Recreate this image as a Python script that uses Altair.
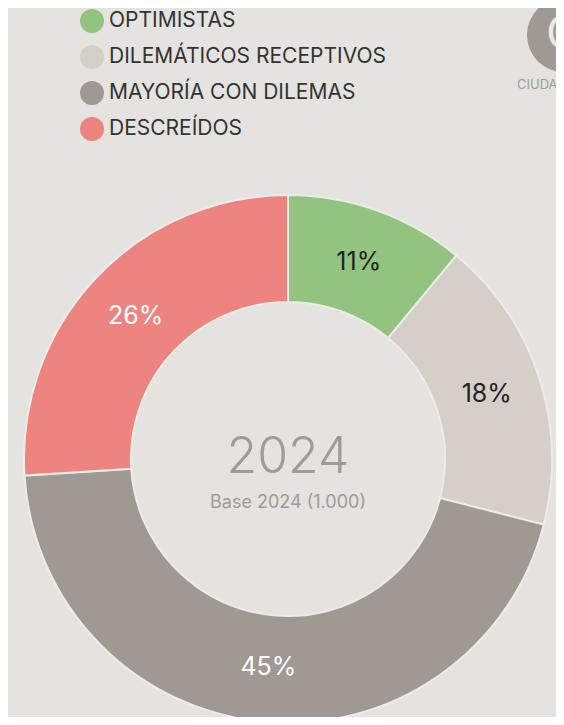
import altair as alt
import pandas as pd

categories = ["OPTIMISTAS", "DILEMÁTICOS RECEPTIVOS", "MAYORÍA CON DILEMAS", "DESCREÍDOS"]
values = [11, 18, 45, 26]
labels = ["11%", "18%", "45%", "26%"]
colors = ["#92c47f", "#d5cec9", "#9f9893", "#ee8480"]
label_colors = ["#222222", "#222222", "#ffffff", "#ffffff"]
center_title = ["2024"]
center_sub = ["Base 2024 (1.000)"]
corner_text = ["CIUDAD"]

BG = "#e5e3df"
GREY_TXT = "#a29a95"
CX, CY = 280, 451

df = pd.DataFrame({
    "cat": categories,
    "val": values,
    "label": labels,
    "ord": list(range(len(categories))),
    "lc": label_colors,
})

base = alt.Chart(df).encode(
    theta=alt.Theta("val:Q", stack=True),
    order=alt.Order("ord:Q"),
)

arcs = base.mark_arc(innerRadius=157, outerRadius=264, stroke="#ecebe8", strokeWidth=2).encode(
    color=alt.Color(
        "cat:N",
        scale=alt.Scale(domain=categories, range=colors),
        sort=categories,
        legend=alt.Legend(
            orient="none", legendX=72, legendY=1, title=None,
            symbolType="circle", symbolSize=576, symbolStrokeWidth=0, symbolOpacity=1,
            labelFontSize=21, labelColor="#333333", labelFont="Inter",
            labelOffset=5, rowPadding=12, padding=0, labelLimit=500,
        ),
    ),
    x=alt.value(CX), y=alt.value(CY),
)

pct = base.mark_text(radius=209, fontSize=25, font="Inter").encode(
    text="label:N",
    color=alt.Color("lc:N", scale=None),
    x=alt.value(CX), y=alt.value(CY),
)

title_df = pd.DataFrame({"t": center_title, "s": center_sub, "c": corner_text})
tbase = alt.Chart(title_df)
big = tbase.mark_text(fontSize=50, fontWeight=300, font="Inter", color=GREY_TXT, baseline="alphabetic").encode(
    text="t:N", x=alt.value(CX), y=alt.value(465))
sub = tbase.mark_text(fontSize=18, font="Inter", color=GREY_TXT, baseline="alphabetic").encode(
    text="s:N", x=alt.value(CX), y=alt.value(500))

icon = tbase.mark_circle(size=5476, color="#a09893", opacity=1).encode(
    x=alt.value(556), y=alt.value(27))
icon_c = tbase.mark_text(text="C", fontSize=46, font="Inter", color="#ebe9e6", align="left", baseline="middle").encode(
    x=alt.value(538), y=alt.value(27))
corner = tbase.mark_text(fontSize=13, font="Inter", color=GREY_TXT, align="left", baseline="alphabetic").encode(
    text="c:N", x=alt.value(509), y=alt.value(81))

chart = alt.layer(arcs, pct, big, sub, icon, icon_c, corner).properties(
    width=548, height=709,
    autosize=alt.AutoSizeParams(type="none"),
    padding=0,
    background=BG,
).configure_view(stroke=None)

chart.save("out.html", embed_options={"renderer": "svg", "actions": False})
